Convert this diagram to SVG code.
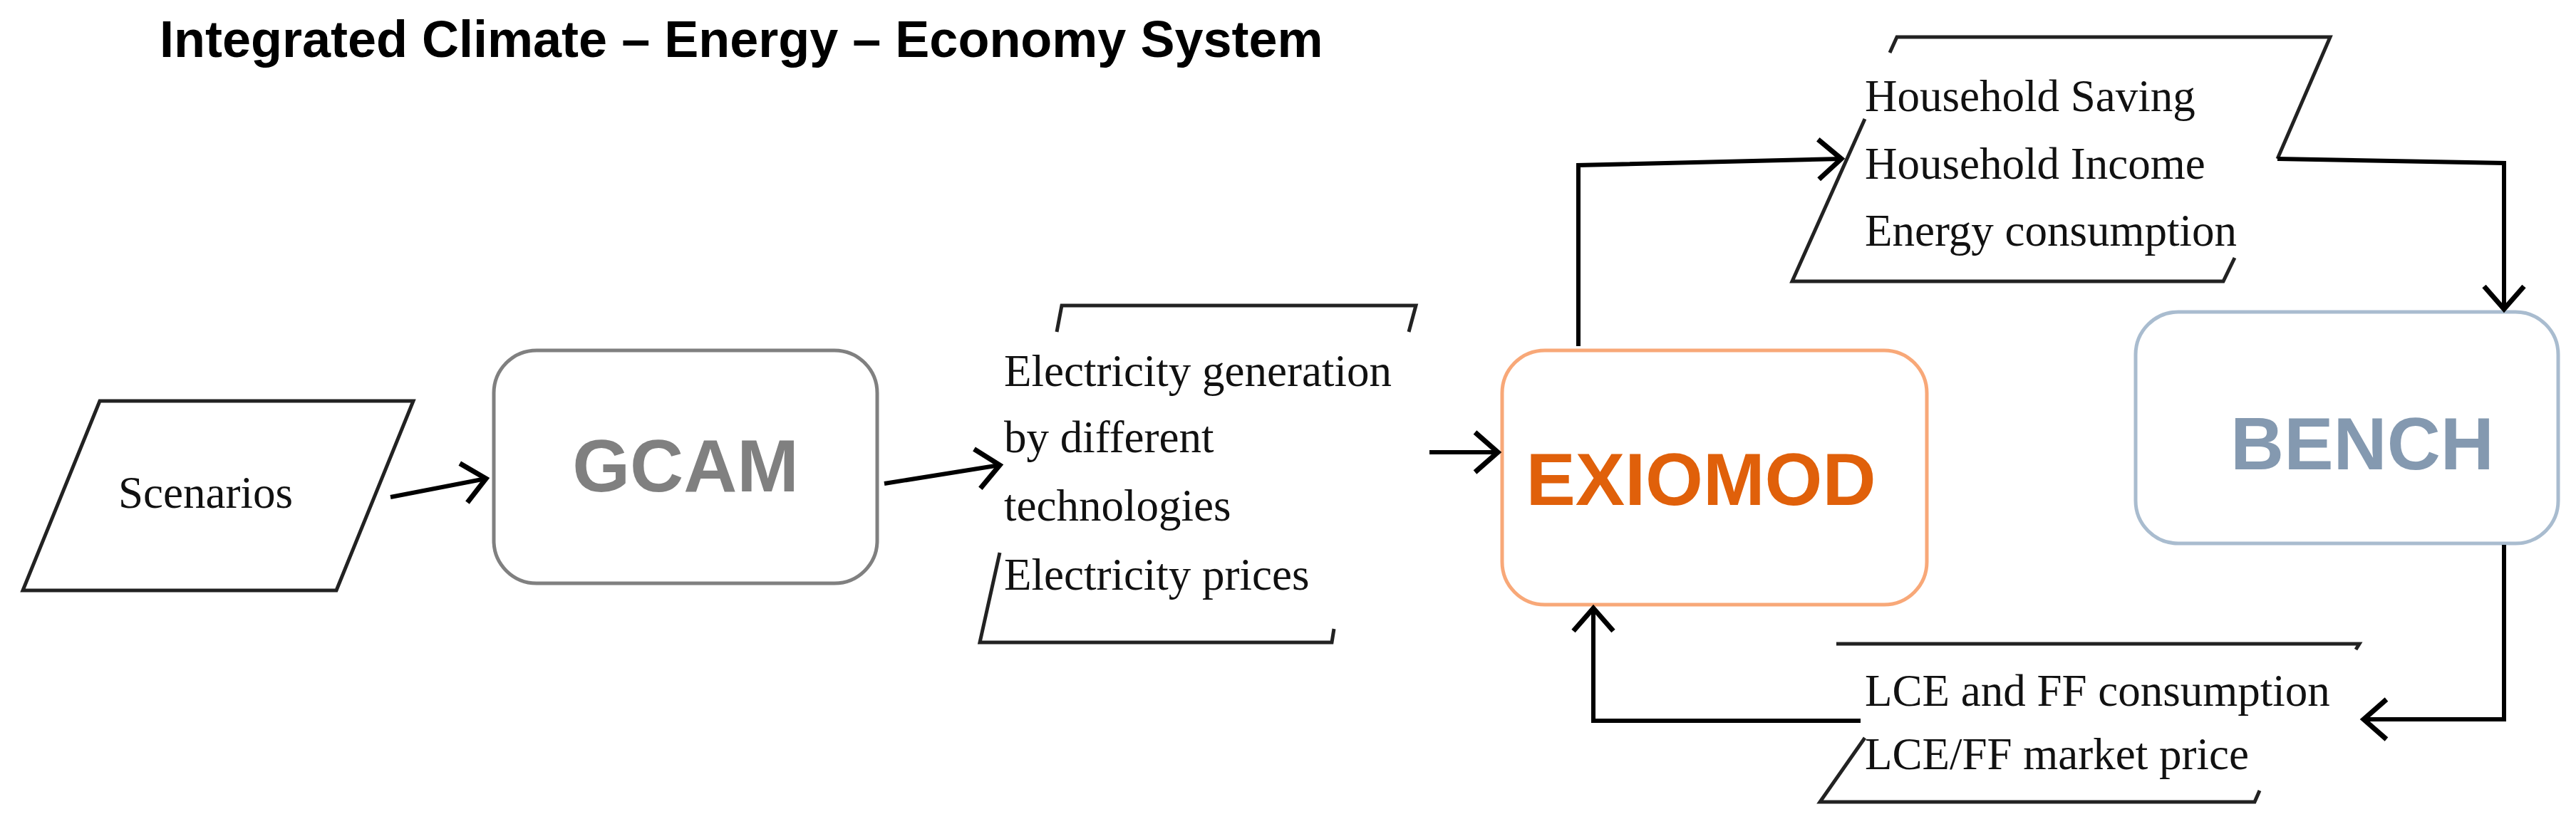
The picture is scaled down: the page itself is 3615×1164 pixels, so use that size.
<svg xmlns="http://www.w3.org/2000/svg" width="3615" height="1164" viewBox="0 0 3615 1164">
<style>
.t{font-family:"Liberation Serif",serif;font-size:63px;fill:#111}
.big{font-family:"Liberation Sans",Arial,sans-serif;font-weight:bold;font-size:104px}
.sh{fill:none;stroke:#222;stroke-width:5}
.c{fill:none;stroke:#000;stroke-width:6;marker-end:url(#a)}
</style>
<defs><marker id="a" markerUnits="userSpaceOnUse" markerWidth="60" markerHeight="80" refX="40" refY="40" orient="auto"><polyline points="8,12 40,40 8,68" fill="none" stroke="#000" stroke-width="7"/></marker></defs>
<rect width="3615" height="1164" fill="#fff"/>
<text x="224" y="80" font-family="Liberation Sans,Arial,sans-serif" font-weight="bold" font-size="72" fill="#000">Integrated Climate – Energy – Economy System</text>
<g id="scenarios"><polygon class="sh" points="140,563 580,563 472,829 32,829"/><text class="t" x="166" y="713">Scenarios</text></g>
<g id="gcam"><rect x="693" y="492" width="538" height="327" rx="60" fill="#fff" stroke="#808080" stroke-width="5"/><text class="big" x="962" y="690" text-anchor="middle" fill="#808080">GCAM</text></g>
<g id="elec"><polyline class="sh" points="1483,466 1490,429 1987,429 1977,466"/><polyline class="sh" points="1403,776 1375,902 1869,902 1872,883"/>
<text class="t" x="1409" y="542">Electricity generation</text><text class="t" x="1409" y="635">by different</text><text class="t" x="1409" y="731">technologies</text><text class="t" x="1409" y="828">Electricity prices</text></g>
<g id="exiomod"><rect x="2108" y="492" width="596" height="357" rx="60" fill="#fff" stroke="#f8a878" stroke-width="5"/><text class="big" x="2387" y="709" text-anchor="middle" fill="#e0600a">EXIOMOD</text></g>
<g id="bench"><rect x="2997" y="438" width="593" height="325" rx="60" fill="#fff" stroke="#a9bccf" stroke-width="5"/><text class="big" x="3315" y="659" text-anchor="middle" fill="#8499b0">BENCH</text></g>
<g id="household"><polyline class="sh" points="2652,74 2662,52 3270,52 3196,223"/><polyline class="sh" points="2617,167 2515,395 3120,395 3136,362"/>
<text class="t" x="2617" y="156">Household Saving</text><text class="t" x="2617" y="251">Household Income</text><text class="t" x="2617" y="345">Energy consumption</text></g>
<g id="lce"><polyline class="sh" points="2577,904 3311,904 3306,912"/><polyline class="sh" points="2617,1036 2554,1126 3164,1126 3171,1110"/>
<text class="t" x="2617" y="991">LCE and FF consumption</text><text class="t" x="2617" y="1080">LCE/FF market price</text></g>
<g id="connectors">
<line class="c" x1="548" y1="698" x2="682" y2="672"/>
<line class="c" x1="1241" y1="679" x2="1403" y2="653"/>
<line class="c" x1="2006" y1="635" x2="2102" y2="635"/>
<polyline class="c" points="2215,486 2215,232 2584,223"/>
<polyline class="c" points="3196,223 3514,229 3514,434"/>
<polyline class="c" points="3514,765 3514,1010 3317,1010"/>
<polyline class="c" points="2611,1012 2236,1012 2236,854"/>
</g>
</svg>
